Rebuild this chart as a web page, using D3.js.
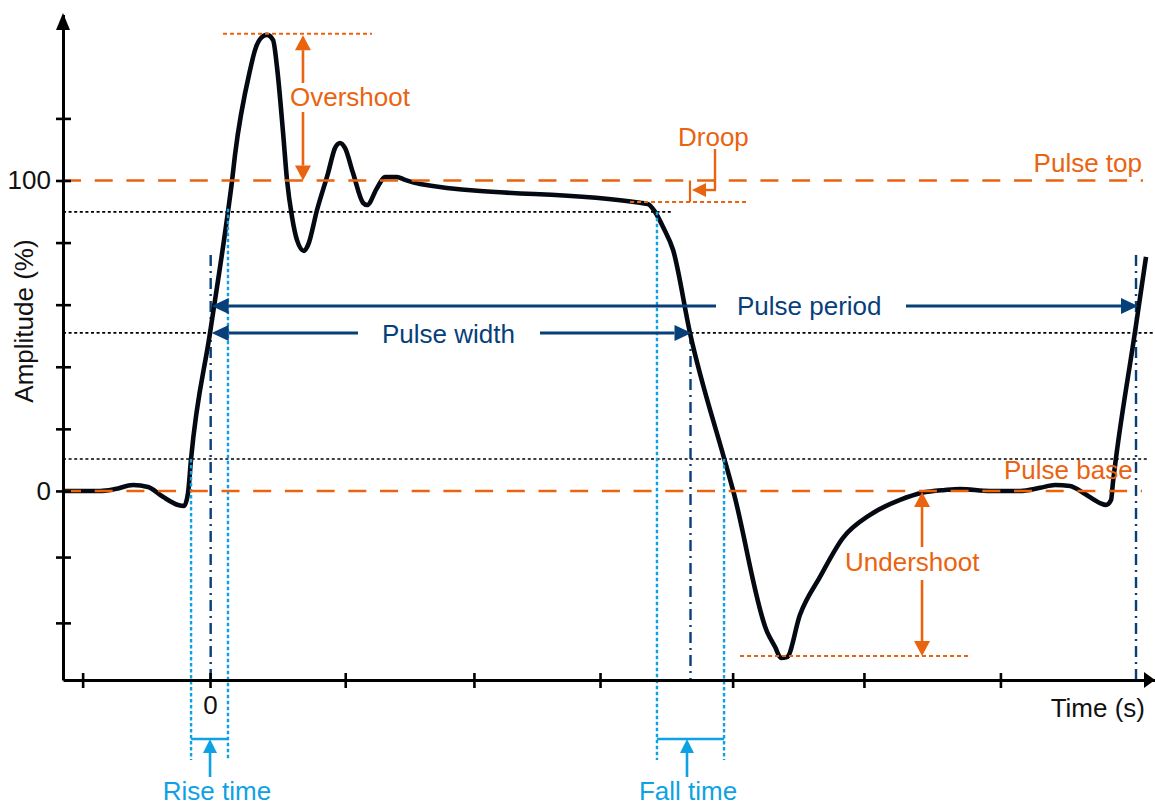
<!DOCTYPE html>
<html><head><meta charset="utf-8">
<script src="https://cdn.jsdelivr.net/npm/d3@7/dist/d3.min.js"></script>
<style>body{margin:0;background:#fff}svg{display:block}text{font-family:"Liberation Sans",Arial,Helvetica,sans-serif}</style>
</head><body><svg id="c" width="1155" height="807"></svg>
<script>
// ---- data (time in tick units, amplitude in %) ----
const waveTime = [-1.131,-0.846,-0.731,-0.592,-0.477,-0.362,-0.246,-0.200,-0.169,-0.146,0.000,0.138,0.169,0.192,0.308,0.346,0.392,0.438,0.485,0.515,0.562,0.592,0.631,0.669,0.723,0.754,0.823,0.908,0.962,1.000,1.038,1.100,1.177,1.208,1.285,1.346,1.438,1.500,1.615,3.308,3.369,3.423,3.485,3.562,3.692,3.954,4.023,4.285,4.346,4.392,4.438,4.538,4.692,4.869,5.077,5.308,5.477,5.654,5.769,6.000,6.231,6.385,6.500,6.615,6.731,6.846,6.892,6.931,6.946,6.969,7.115,7.200];
const waveAmp  = [0,0,0.6,1.9,1.3,-1.9,-4.5,-4.8,-0.6,10.3,50.9,89.9,99.8,108.2,135.6,142.0,145.9,146.9,145.2,136.6,115.3,100.2,88.2,80.8,77.3,79.2,90.5,102.4,110.5,112.1,110.5,102.4,92.8,92.1,97.6,101.1,101.1,100.2,98.9,92.8,92.4,89.9,85.0,77.6,50.9,10.6,0.3,-45.4,-50.2,-53.8,-53.5,-39.9,-27.7,-15.1,-7.7,-2.9,-0.6,0.3,0.6,0,0,1.0,1.9,1.6,-1.0,-3.9,-4.5,-2.9,2.9,10.6,51.2,75.4];
const timeTicks = [-0.98,0,1.04,2.03,3.0,4.02,5.03,6.08];
const timeTickLabels = ["","0","","","","","",""];
const ampTicks = [-42.5,-21.3,0,20,40,60,80,100,120];
const ampTickLabels = ["","","0","","","","","100",""];
const levelValues = [0,100];
const levelLabels = ["Pulse base","Pulse top"];
const refLevels = [10.3,50.9,89.9];
const overshootLevel = 147.3, undershootLevel = -53.2, droopLevel = 93.1;
const riseTimes = [-0.146,0.138], riseMid = 0.005;
const fallTimes = [3.438,3.954], fallMid = 3.696;
const nextRiseMid = 7.123;
const periodAmp = 59.6, markerTopAmp = 76;

// ---- setup ----
const ORANGE = "#ea630f", NAVY = "#063f79", LBLUE = "#0ea2e4", BLACK = "#000";
const svg = d3.select("#c");
const x = d3.scaleLinear().domain([-1.131, 7.269]).range([63, 1155]);
const y = d3.scaleLinear().domain([-60.9, 153.5]).range([680, 14.4]);
const FS = 26;

function line(x1,y1,x2,y2,color,w,dash){
  const l = svg.append("line").attr("x1",x1).attr("y1",y1).attr("x2",x2).attr("y2",y2)
    .attr("stroke",color).attr("stroke-width",w);
  if (dash) l.attr("stroke-dasharray",dash);
  return l;
}
function arrow(x1,y1,x2,y2,color,w,len,half){
  const dx=x2-x1, dy=y2-y1, L=Math.hypot(dx,dy), ux=dx/L, uy=dy/L;
  const bx=x2-ux*len, by=y2-uy*len;
  line(x1,y1,bx,by,color,w);
  svg.append("path").attr("d",`M${x2},${y2}L${bx-uy*half},${by+ux*half}L${bx+uy*half},${by-ux*half}Z`).attr("fill",color);
}
function text(t,xx,yy,color,anchor){
  return svg.append("text").attr("x",xx).attr("y",yy).attr("fill",color)
    .attr("font-size",FS).attr("text-anchor",anchor||"start").text(t);
}

// ---- reference dotted lines (10/50/90 %) ----
const xmin = x.domain()[0], xmax = x.domain()[1];
line(x(xmin), y(refLevels[0]), 1148, y(refLevels[0]), BLACK, 1.6, "3,2.6");
line(x(xmin), y(refLevels[1]), x(riseMid), y(refLevels[1]), BLACK, 1.6, "3,2.6");
line(x(fallMid), y(refLevels[1]), x(xmax), y(refLevels[1]), BLACK, 1.6, "3,2.6");
line(x(xmin), y(refLevels[2]), x(3.554), y(refLevels[2]), BLACK, 1.6, "3,2.6");

// ---- navy dash-dot markers at 50% crossings ----
[riseMid, nextRiseMid].forEach(t => line(x(t), y(markerTopAmp), x(t), y(-60.9), NAVY, 2.4, "11,5,2,5"));
line(x(fallMid), y(refLevels[1]), x(fallMid), y(-60.9), NAVY, 2.4, "11,5,2,5");

// ---- waveform ----
const wave = waveTime.map((t,i)=>[t, waveAmp[i]]);
svg.append("path").datum(wave)
  .attr("d", d3.line().x(d=>x(d[0])).y(d=>y(d[1])).curve(d3.curveMonotoneX))
  .attr("fill","none").attr("stroke","#050a12").attr("stroke-width",4.6).attr("stroke-linejoin","round");

// ---- light blue rise/fall verticals ----
line(x(riseTimes[0]), y(refLevels[0]), x(riseTimes[0]), 760, LBLUE, 2.4, "3.5,2.5");
line(x(riseTimes[1]), y(refLevels[2])-3, x(riseTimes[1]), 760, LBLUE, 2.4, "3.5,2.5");
line(x(fallTimes[0]), y(refLevels[2]), x(fallTimes[0]), 760, LBLUE, 2.4, "3.5,2.5");
line(x(fallTimes[1]), y(refLevels[0]), x(fallTimes[1]), 760, LBLUE, 2.4, "3.5,2.5");
// brackets + arrows
line(x(riseTimes[0]), 739, x(riseTimes[1]), 739, LBLUE, 2.4);
line(x(fallTimes[0]), 739, x(fallTimes[1]), 739, LBLUE, 2.4);
arrow(x(0), 777, x(0), 739, LBLUE, 2.6, 14, 7);
arrow(687, 777, 687, 739, LBLUE, 2.6, 14, 7);
text("Rise time", 217, 800, LBLUE, "middle");
text("Fall time", 688, 800, LBLUE, "middle");

// ---- orange dashed pulse levels ----
line(x(xmin), y(levelValues[0]), 1142, y(levelValues[0]), ORANGE, 2.6, "18,13.7");
line(x(xmin), y(levelValues[1]), 1143, y(levelValues[1]), ORANGE, 2.6, "18,13.7");
text(levelLabels[1], 1142, 172, ORANGE, "end");
text(levelLabels[0], 1004, 479, ORANGE, "start");

// ---- overshoot ----
line(x(0.1), y(overshootLevel), x(1.246), y(overshootLevel), ORANGE, 2, "4,3");
const ox = x(0.715);
arrow(ox, 83, ox, y(overshootLevel)+1.5, ORANGE, 2.6, 15, 8);
arrow(ox, 112, ox, y(100), ORANGE, 2.6, 15, 8);
text("Overshoot", 290, 106, ORANGE);

// ---- undershoot ----
line(x(4.077), y(undershootLevel), x(5.831), y(undershootLevel), ORANGE, 2, "4,3");
const ux0 = x(5.477);
arrow(ux0, 547, ux0, y(0)+1, ORANGE, 2.6, 15, 8);
arrow(ux0, 580, ux0, y(undershootLevel), ORANGE, 2.6, 15, 8);
text("Undershoot", 845, 571, ORANGE);

// ---- droop ----
line(x(3.231), y(droopLevel), x(4.138), y(droopLevel), ORANGE, 2, "4,3");
line(x(3.692), y(100), x(3.692), y(droopLevel), ORANGE, 2.2);
line(715, 149, 715, 190, ORANGE, 2.4);
arrow(716, 190, 692, 190, ORANGE, 2.4, 14, 7);
text("Droop", 678, 146, ORANGE);

// ---- pulse width / period ----
const pwY = y(refLevels[1]), ppY = y(periodAmp);
arrow(358, pwY, x(riseMid)+1, pwY, NAVY, 3, 17, 8);
arrow(540, pwY, x(fallMid)+1, pwY, NAVY, 3, 17, 8);
text("Pulse width", 382, 343, NAVY);
arrow(716, ppY, x(riseMid)+1, ppY, NAVY, 3, 17, 8);
arrow(906, ppY, x(nextRiseMid)+2, ppY, NAVY, 3, 17, 8);
text("Pulse period", 737, 315, NAVY);

// ---- axes ----
const gx = svg.append("g").attr("transform",`translate(0,${y(-60.9)})`)
  .call(d3.axisBottom(x).tickValues(timeTicks).tickSizeOuter(0).tickFormat((d,i)=>timeTickLabels[i]));
gx.select(".domain").attr("stroke",BLACK).attr("stroke-width",3);
gx.selectAll(".tick line").attr("y1",-7).attr("y2",8).attr("stroke",BLACK).attr("stroke-width",2.6);
gx.selectAll(".tick text").attr("y",34).attr("dy",0).attr("font-size",FS).attr("fill","#111")
  .attr("font-family",'"Liberation Sans",Arial,sans-serif');

const gy = svg.append("g").attr("transform",`translate(${x(xmin)},0)`)
  .call(d3.axisLeft(y).tickValues(ampTicks).tickSizeOuter(0).tickFormat((d,i)=>ampTickLabels[i]));
gy.select(".domain").attr("stroke",BLACK).attr("stroke-width",3);
gy.selectAll(".tick line").attr("x1",-7).attr("x2",8).attr("stroke",BLACK).attr("stroke-width",2.6);
gy.selectAll(".tick text").attr("x",-12).attr("font-size",FS).attr("fill","#111")
  .attr("font-family",'"Liberation Sans",Arial,sans-serif');

// axis arrowheads
svg.append("path").attr("d",`M63,13L70,30L56,30Z`).attr("fill",BLACK);
svg.append("path").attr("d",`M1155,680L1144,672L1144,688Z`).attr("fill",BLACK);

// axis titles
svg.append("text").attr("transform","translate(33,321) rotate(-90)").attr("text-anchor","middle")
  .attr("font-size",FS).attr("fill","#111").text("Amplitude (%)");
text("Time (s)", 1145, 717, "#111", "end");
</script></body></html>
